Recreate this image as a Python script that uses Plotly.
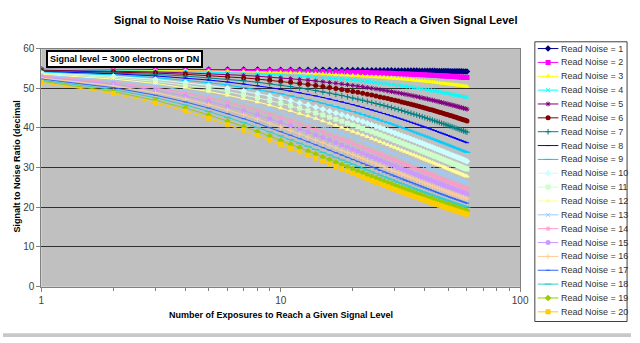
import plotly.graph_objects as go

# ---------------- data ----------------
exposures = [1, 2, 3, 4, 5, 6, 7, 8, 9, 10, 11, 12, 13, 14, 15, 16, 17, 18, 19, 20,
             21, 22, 23, 24, 25, 26, 27, 28, 29, 30, 31, 32, 33, 34, 35, 36, 37, 38, 39, 40,
             41, 42, 43, 44, 45, 46, 47, 48, 49, 50, 51, 52, 53, 54, 55, 56, 57, 58, 59, 60]

snr_rn1 = [54.76, 54.75, 54.74, 54.74, 54.73, 54.72, 54.71, 54.70, 54.69, 54.68,
           54.67, 54.66, 54.65, 54.64, 54.64, 54.63, 54.62, 54.61, 54.60, 54.59,
           54.58, 54.57, 54.56, 54.55, 54.55, 54.54, 54.53, 54.52, 54.51, 54.50,
           54.49, 54.48, 54.47, 54.47, 54.46, 54.45, 54.44, 54.43, 54.42, 54.41,
           54.40, 54.39, 54.39, 54.38, 54.37, 54.36, 54.35, 54.34, 54.33, 54.32,
           54.31, 54.31, 54.30, 54.29, 54.28, 54.27, 54.26, 54.25, 54.24, 54.23]
snr_rn2 = [54.74, 54.70, 54.66, 54.63, 54.59, 54.55, 54.52, 54.48, 54.45, 54.41,
           54.38, 54.34, 54.31, 54.27, 54.24, 54.20, 54.17, 54.13, 54.10, 54.06,
           54.03, 53.99, 53.96, 53.92, 53.89, 53.85, 53.82, 53.78, 53.75, 53.71,
           53.68, 53.64, 53.61, 53.58, 53.54, 53.51, 53.47, 53.44, 53.41, 53.37,
           53.34, 53.30, 53.27, 53.24, 53.20, 53.17, 53.14, 53.10, 53.07, 53.03,
           53.00, 52.97, 52.93, 52.90, 52.87, 52.83, 52.80, 52.77, 52.73, 52.70]
snr_rn3 = [54.69, 54.61, 54.53, 54.45, 54.37, 54.29, 54.21, 54.13, 54.05, 53.97,
           53.89, 53.82, 53.74, 53.66, 53.58, 53.51, 53.43, 53.35, 53.28, 53.20,
           53.13, 53.05, 52.98, 52.90, 52.83, 52.76, 52.68, 52.61, 52.54, 52.46,
           52.39, 52.32, 52.25, 52.18, 52.11, 52.03, 51.96, 51.89, 51.82, 51.75,
           51.68, 51.62, 51.55, 51.48, 51.41, 51.35, 51.28, 51.21, 51.14, 51.08,
           51.01, 50.94, 50.88, 50.81, 50.75, 50.68, 50.62, 50.55, 50.49, 50.42]
snr_rn4 = [54.63, 54.49, 54.35, 54.20, 54.06, 53.92, 53.78, 53.65, 53.51, 53.37,
           53.24, 53.10, 52.97, 52.83, 52.70, 52.57, 52.45, 52.32, 52.20, 52.07,
           51.94, 51.82, 51.70, 51.57, 51.45, 51.33, 51.21, 51.09, 50.97, 50.85,
           50.74, 50.62, 50.51, 50.39, 50.28, 50.17, 50.06, 49.95, 49.83, 49.72,
           49.62, 49.51, 49.40, 49.30, 49.19, 49.09, 48.98, 48.88, 48.77, 48.67,
           48.57, 48.47, 48.36, 48.26, 48.16, 48.06, 47.96, 47.87, 47.77, 47.67]
snr_rn5 = [54.55, 54.33, 54.10, 53.88, 53.67, 53.45, 53.24, 53.03, 52.83, 52.62,
           52.42, 52.22, 52.03, 51.83, 51.64, 51.45, 51.26, 51.08, 50.89, 50.71,
           50.53, 50.35, 50.18, 50.00, 49.83, 49.66, 49.49, 49.32, 49.16, 48.99,
           48.83, 48.67, 48.51, 48.36, 48.20, 48.04, 47.89, 47.74, 47.58, 47.43,
           47.29, 47.14, 47.00, 46.85, 46.71, 46.57, 46.43, 46.29, 46.15, 46.02,
           45.88, 45.75, 45.62, 45.49, 45.36, 45.23, 45.10, 44.98, 44.85, 44.72]
snr_rn6 = [54.45, 54.14, 53.82, 53.51, 53.20, 52.90, 52.61, 52.32, 52.03, 51.75,
           51.48, 51.21, 50.94, 50.68, 50.42, 50.17, 49.92, 49.67, 49.43, 49.19,
           48.96, 48.73, 48.50, 48.27, 48.04, 47.82, 47.61, 47.39, 47.18, 46.97,
           46.77, 46.56, 46.36, 46.16, 45.96, 45.77, 45.58, 45.39, 45.21, 45.02,
           44.84, 44.66, 44.49, 44.31, 44.14, 43.97, 43.80, 43.63, 43.47, 43.30,
           43.14, 42.98, 42.82, 42.67, 42.51, 42.36, 42.21, 42.06, 41.91, 41.76]
snr_rn7 = [54.33, 53.90, 53.48, 53.07, 52.66, 52.27, 51.88, 51.51, 51.14, 50.78,
           50.43, 50.08, 49.75, 49.42, 49.09, 48.78, 48.46, 48.16, 47.85, 47.55,
           47.26, 46.98, 46.70, 46.42, 46.15, 45.89, 45.63, 45.37, 45.12, 44.87,
           44.63, 44.39, 44.15, 43.92, 43.69, 43.47, 43.25, 43.03, 42.81, 42.60,
           42.39, 42.19, 41.98, 41.78, 41.58, 41.39, 41.20, 41.01, 40.82, 40.64,
           40.46, 40.28, 40.10, 39.92, 39.75, 39.58, 39.42, 39.25, 39.09, 38.93]
snr_rn8 = [54.20, 53.64, 53.10, 52.58, 52.07, 51.57, 51.09, 50.62, 50.17, 49.72,
           49.29, 48.87, 48.46, 48.06, 47.67, 47.30, 46.93, 46.57, 46.21, 45.86,
           45.52, 45.19, 44.86, 44.54, 44.23, 43.93, 43.63, 43.34, 43.05, 42.77,
           42.50, 42.23, 41.96, 41.70, 41.44, 41.19, 40.94, 40.70, 40.46, 40.23,
           40.00, 39.77, 39.55, 39.34, 39.12, 38.91, 38.70, 38.50, 38.30, 38.10,
           37.91, 37.71, 37.52, 37.34, 37.15, 36.97, 36.79, 36.62, 36.44, 36.27]
snr_rn9 = [54.05, 53.35, 52.68, 52.03, 51.41, 50.81, 50.23, 49.67, 49.13, 48.60,
           48.09, 47.60, 47.12, 46.66, 46.21, 45.77, 45.35, 44.93, 44.53, 44.14,
           43.76, 43.38, 43.02, 42.67, 42.32, 41.98, 41.65, 41.33, 41.02, 40.71,
           40.41, 40.12, 39.83, 39.55, 39.27, 39.00, 38.74, 38.48, 38.23, 37.98,
           37.74, 37.50, 37.26, 37.03, 36.80, 36.58, 36.36, 36.15, 35.94, 35.73,
           35.53, 35.33, 35.13, 34.94, 34.75, 34.56, 34.38, 34.19, 34.02, 33.84]
snr_rn10 = [53.88, 53.03, 52.22, 51.45, 50.71, 50.00, 49.32, 48.67, 48.04, 47.43,
            46.85, 46.29, 45.75, 45.23, 44.72, 44.23, 43.76, 43.30, 42.86, 42.43,
            42.01, 41.60, 41.21, 40.82, 40.45, 40.09, 39.74, 39.39, 39.06, 38.73,
            38.41, 38.10, 37.80, 37.50, 37.21, 36.93, 36.65, 36.38, 36.12, 35.86,
            35.60, 35.36, 35.11, 34.87, 34.64, 34.41, 34.19, 33.97, 33.75, 33.54,
            33.33, 33.13, 32.93, 32.73, 32.54, 32.35, 32.16, 31.98, 31.80, 31.62]
snr_rn11 = [53.70, 52.69, 51.73, 50.83, 49.97, 49.15, 48.37, 47.62, 46.92, 46.24,
            45.59, 44.96, 44.36, 43.79, 43.23, 42.70, 42.19, 41.69, 41.21, 40.75,
            40.30, 39.87, 39.44, 39.04, 38.65, 38.27, 37.90, 37.53, 37.18, 36.84,
            36.51, 36.19, 35.87, 35.57, 35.27, 34.98, 34.69, 34.41, 34.14, 33.88,
            33.62, 33.37, 33.12, 32.88, 32.65, 32.42, 32.19, 31.97, 31.75, 31.54,
            31.33, 31.12, 30.92, 30.72, 30.53, 30.34, 30.16, 29.97, 29.80, 29.62]
snr_rn12 = [53.50, 52.32, 51.21, 50.17, 49.19, 48.26, 47.39, 46.56, 45.77, 45.02,
            44.31, 43.63, 42.98, 42.36, 41.76, 41.19, 40.64, 40.12, 39.61, 39.12,
            38.65, 38.20, 37.76, 37.34, 36.93, 36.53, 36.15, 35.77, 35.41, 35.06,
            34.72, 34.39, 34.07, 33.76, 33.46, 33.17, 32.88, 32.59, 32.32, 32.05,
            31.79, 31.54, 31.29, 31.05, 30.81, 30.58, 30.35, 30.13, 29.92, 29.70,
            29.50, 29.30, 29.10, 28.90, 28.71, 28.53, 28.34, 28.16, 27.98, 27.81]
snr_rn13 = [53.29, 51.93, 50.66, 49.48, 48.38, 47.35, 46.38, 45.48, 44.62, 43.81,
            43.04, 42.31, 41.61, 40.95, 40.32, 39.72, 39.15, 38.60, 38.07, 37.56,
            37.07, 36.60, 36.15, 35.71, 35.29, 34.89, 34.49, 34.11, 33.75, 33.40,
            33.05, 32.72, 32.39, 32.08, 31.77, 31.47, 31.18, 30.90, 30.63, 30.37,
            30.12, 29.86, 29.61, 29.37, 29.13, 28.91, 28.69, 28.47, 28.25, 28.04,
            27.84, 27.64, 27.44, 27.25, 27.06, 26.88, 26.70, 26.52, 26.34, 26.17]
snr_rn14 = [53.07, 51.51, 50.08, 48.77, 47.55, 46.42, 45.37, 44.39, 43.46, 42.60,
            41.78, 41.01, 40.28, 39.58, 38.93, 38.30, 37.70, 37.13, 36.59, 36.06,
            35.56, 35.08, 34.62, 34.18, 33.75, 33.34, 32.95, 32.57, 32.20, 31.84,
            31.49, 31.16, 30.83, 30.52, 30.21, 29.92, 29.63, 29.35, 29.08, 28.81,
            28.56, 28.31, 28.06, 27.82, 27.59, 27.37, 27.15, 26.93, 26.72, 26.52,
            26.32, 26.12, 25.93, 25.74, 25.56, 25.38, 25.20, 25.03, 24.86, 24.69]
snr_rn15 = [52.83, 51.08, 49.49, 48.04, 46.71, 45.49, 44.35, 43.30, 42.32, 41.40,
            40.54, 39.74, 38.97, 38.25, 37.57, 36.93, 36.31, 35.73, 35.17, 34.64,
            34.13, 33.65, 33.18, 32.73, 32.30, 31.89, 31.49, 31.11, 30.74, 30.38,
            30.04, 29.70, 29.38, 29.07, 28.77, 28.47, 28.19, 27.91, 27.65, 27.39,
            27.14, 26.89, 26.65, 26.41, 26.19, 25.97, 25.75, 25.54, 25.33, 25.13,
            24.94, 24.74, 24.55, 24.37, 24.19, 24.02, 23.85, 23.68, 23.52, 23.36]
snr_rn16 = [52.58, 50.62, 48.87, 47.29, 45.86, 44.54, 43.34, 42.22, 41.19, 40.23,
            39.34, 38.50, 37.71, 36.97, 36.27, 35.61, 34.99, 34.39, 33.83, 33.29,
            32.78, 32.29, 31.82, 31.37, 30.94, 30.52, 30.13, 29.75, 29.38, 29.03,
            28.69, 28.36, 28.04, 27.73, 27.43, 27.14, 26.86, 26.59, 26.33, 26.07,
            25.83, 25.59, 25.35, 25.12, 24.90, 24.68, 24.47, 24.26, 24.06, 23.87,
            23.68, 23.49, 23.31, 23.13, 22.96, 22.79, 22.62, 22.46, 22.30, 22.14]
snr_rn17 = [52.31, 50.15, 48.24, 46.54, 45.00, 43.60, 42.33, 41.16, 40.09, 39.09,
            38.16, 37.30, 36.50, 35.74, 35.03, 34.36, 33.72, 33.13, 32.56, 32.02,
            31.50, 31.01, 30.54, 30.10, 29.67, 29.26, 28.86, 28.48, 28.12, 27.77,
            27.43, 27.11, 26.79, 26.49, 26.20, 25.91, 25.64, 25.37, 25.11, 24.86,
            24.62, 24.38, 24.16, 23.93, 23.71, 23.50, 23.29, 23.10, 22.90, 22.71,
            22.53, 22.34, 22.17, 21.99, 21.82, 21.66, 21.50, 21.34, 21.19, 21.04]
snr_rn18 = [52.03, 49.67, 47.60, 45.77, 44.14, 42.67, 41.33, 40.12, 39.00, 37.98,
            37.03, 36.15, 35.33, 34.56, 33.84, 33.16, 32.52, 31.92, 31.35, 30.81,
            30.30, 29.81, 29.34, 28.90, 28.47, 28.07, 27.68, 27.30, 26.95, 26.60,
            26.27, 25.95, 25.64, 25.34, 25.05, 24.77, 24.50, 24.24, 23.99, 23.75,
            23.51, 23.28, 23.06, 22.84, 22.63, 22.42, 22.22, 22.03, 21.83, 21.65,
            21.48, 21.30, 21.13, 20.96, 20.79, 20.63, 20.48, 20.33, 20.18, 20.03]
snr_rn19 = [51.75, 49.17, 46.95, 45.00, 43.28, 41.74, 40.35, 39.10, 37.95, 36.90,
            35.93, 35.04, 34.20, 33.43, 32.70, 32.02, 31.38, 30.78, 30.21, 29.68,
            29.17, 28.68, 28.22, 27.78, 27.36, 26.96, 26.57, 26.20, 25.85, 25.51,
            25.18, 24.87, 24.57, 24.27, 23.99, 23.72, 23.46, 23.20, 22.96, 22.72,
            22.49, 22.26, 22.04, 21.83, 21.63, 21.43, 21.23, 21.04, 20.86, 20.68,
            20.50, 20.33, 20.17, 20.00, 19.84, 19.69, 19.54, 19.39, 19.25, 19.10]
snr_rn20 = [51.45, 48.67, 46.29, 44.23, 42.43, 40.82, 39.39, 38.10, 36.93, 35.86,
            34.87, 33.97, 33.13, 32.35, 31.62, 30.94, 30.30, 29.70, 29.14, 28.60,
            28.10, 27.62, 27.16, 26.73, 26.31, 25.92, 25.54, 25.18, 24.83, 24.49,
            24.17, 23.87, 23.57, 23.28, 23.01, 22.74, 22.49, 22.24, 22.00, 21.76,
            21.54, 21.32, 21.11, 20.90, 20.70, 20.51, 20.32, 20.13, 19.96, 19.78,
            19.61, 19.45, 19.28, 19.13, 18.97, 18.82, 18.68, 18.53, 18.39, 18.26]

series_names = ["Read Noise = %d" % i for i in range(1, 21)]
series_values = [snr_rn1, snr_rn2, snr_rn3, snr_rn4, snr_rn5, snr_rn6, snr_rn7,
                 snr_rn8, snr_rn9, snr_rn10, snr_rn11, snr_rn12, snr_rn13, snr_rn14,
                 snr_rn15, snr_rn16, snr_rn17, snr_rn18, snr_rn19, snr_rn20]

x_tick_vals = [1, 10, 100]
x_tick_text = ["1", "10", "100"]
x_minor_vals = [2, 3, 4, 5, 6, 7, 8, 9, 20, 30, 40, 50, 60, 70, 80, 90]

# ---------------- styles ----------------
colors = ["#000080", "#FF00FF", "#FFFF00", "#00FFFF", "#800080", "#800000", "#008080",
          "#0000FF", "#00CCFF", "#CCFFFF", "#CCFFCC", "#FFFF99", "#99CCFF", "#FF99CC",
          "#CC99FF", "#FFCC99", "#3366FF", "#33CCCC", "#99CC00", "#FFCC00"]
symbols = ["diamond", "square", "triangle-up", "x-thin", "asterisk", "circle", "cross-thin",
           "line-ew", "line-ew", "diamond", "square", "triangle-up", "x-thin", "asterisk",
           "circle", "cross-thin", "line-ew", "line-ew", "diamond", "square"]
sizes = [5, 5, 5, 4, 4, 5, 4, 3, 5, 5, 5, 5, 4, 4, 5, 4, 3, 5, 5, 5]
open_syms = {"x-thin", "asterisk", "cross-thin", "line-ew"}

W, H = 640, 343
PX0, PX1 = 39, 527      # plot area x pixels
PY_TOP, PY_BOT = 45, 291
LEG_X0, LEG_X1 = 542, 636
LEG_Y0, LEG_Y1 = 38, 327
LEG_FIRST, LEG_LAST = 45, 317

FONT = "Liberation Sans, Arial, sans-serif"


def marker_style(sym, sz, col):
    lw = 1 if sym in open_syms else 0
    return dict(symbol=sym, size=sz, color=col, line=dict(color=col, width=lw))


fig = go.Figure()

for name, vals, col, sym, sz in zip(series_names, series_values, colors, symbols, sizes):
    fig.add_trace(go.Scatter(
        x=exposures, y=vals, name=name, mode="lines+markers",
        line=dict(color=col, width=1),
        marker=marker_style(sym, sz, col),
        showlegend=False, xaxis="x", yaxis="y"))

# custom legend drawn on a helper subplot
for idx, (name, col, sym, sz) in enumerate(zip(series_names, colors, symbols, sizes), start=1):
    fig.add_trace(go.Scatter(x=[3, 24], y=[idx, idx], mode="lines",
                             line=dict(color=col, width=1), showlegend=False,
                             hoverinfo="skip", xaxis="x2", yaxis="y2"))
    fig.add_trace(go.Scatter(x=[13.5], y=[idx], mode="markers",
                             marker=marker_style(sym, sz, col),
                             showlegend=False, hoverinfo="skip", xaxis="x2", yaxis="y2"))
    fig.add_annotation(x=25, y=idx, xref="x2", yref="y2", text=name, showarrow=False,
                       xanchor="left", yanchor="middle",
                       font=dict(family=FONT, size=9, color="#333333"))

step = (LEG_LAST - LEG_FIRST) / 19.0
y2_top = 1 - LEG_FIRST / step
y2_bot = 1 + (H - LEG_FIRST) / step

fig.update_layout(
    width=W, height=H, autosize=False,
    margin=dict(l=0, r=0, t=0, b=0),
    paper_bgcolor="white", plot_bgcolor="white",
    font=dict(family=FONT, color="#000000"),
    xaxis=dict(type="log", range=[0, 2], domain=[PX0 / W, PX1 / W], anchor="y",
               tickmode="array", tickvals=x_tick_vals, ticktext=x_tick_text,
               ticks="outside", ticklen=4, tickcolor="#808080",
               showline=True, linecolor="#808080", linewidth=1, mirror=True,
               showgrid=False, zeroline=False,
               tickfont=dict(family=FONT, size=10, color="#404040"),
               minor=dict(tickmode="array", tickvals=x_minor_vals, ticks="outside",
                          ticklen=3, tickcolor="#808080", showgrid=False)),
    yaxis=dict(range=[0, 60], dtick=10, tick0=0, anchor="x",
               domain=[1 - PY_BOT / H, 1 - PY_TOP / H],
               ticks="outside", ticklen=4, tickcolor="#808080",
               showline=True, linecolor="#808080", linewidth=1, mirror=True,
               showgrid=True, gridcolor="#303030", gridwidth=1, zeroline=False,
               tickfont=dict(family=FONT, size=10, color="#404040")),
    xaxis2=dict(domain=[LEG_X0 / W, LEG_X1 / W], range=[0, LEG_X1 - LEG_X0],
                visible=False, anchor="y2", fixedrange=True),
    yaxis2=dict(domain=[0, 1], range=[y2_bot, y2_top], visible=False,
                anchor="x2", fixedrange=True),
    showlegend=False,
)

# plot area background (silver) below gridlines
fig.add_shape(type="rect", xref="x domain", yref="y domain", x0=0, x1=1, y0=0, y1=1,
              fillcolor="#C0C0C0", line=dict(width=0), layer="below")
# legend frame
fig.add_shape(type="rect", xref="paper", yref="paper",
              x0=LEG_X0 / W, x1=LEG_X1 / W, y0=1 - LEG_Y1 / H, y1=1 - LEG_Y0 / H,
              line=dict(color="#404040", width=1), fillcolor="rgba(0,0,0,0)")
# bottom gray strip
fig.add_shape(type="rect", xref="paper", yref="paper", x0=0, x1=1, y0=0, y1=4 / H,
              fillcolor="#C8C8C8", line=dict(width=0))

# titles and text box
fig.add_annotation(x=318 / W, y=1 - 16 / H, xref="paper", yref="paper", showarrow=False,
                   text="<b>Signal to Noise Ratio Vs Number of Exposures to Reach a Given Signal Level</b>",
                   font=dict(family=FONT, size=11, color="#000000"),
                   xanchor="center", yanchor="middle")
fig.add_annotation(x=283 / W, y=1 - 320 / H, xref="paper", yref="paper", showarrow=False,
                   text="<b>Number of Exposures to Reach a Given Signal Level</b>",
                   font=dict(family=FONT, size=9, color="#000000"),
                   xanchor="center", yanchor="middle")
fig.add_annotation(x=14 / W, y=1 - 167 / H, xref="paper", yref="paper", showarrow=False,
                   text="<b>Signalt to Noise Ratio (decimal</b>", textangle=-90,
                   font=dict(family=FONT, size=9, color="#000000"),
                   xanchor="center", yanchor="middle")
fig.add_annotation(x=44 / W, y=1 - 46 / H, xref="paper", yref="paper", showarrow=False,
                   text="<b>Signal level = 3000 electrons or DN</b>",
                   font=dict(family=FONT, size=9, color="#000000"),
                   xanchor="left", yanchor="top",
                   bgcolor="white", bordercolor="#000000", borderwidth=2, borderpad=2)

fig.write_html("out.html")
